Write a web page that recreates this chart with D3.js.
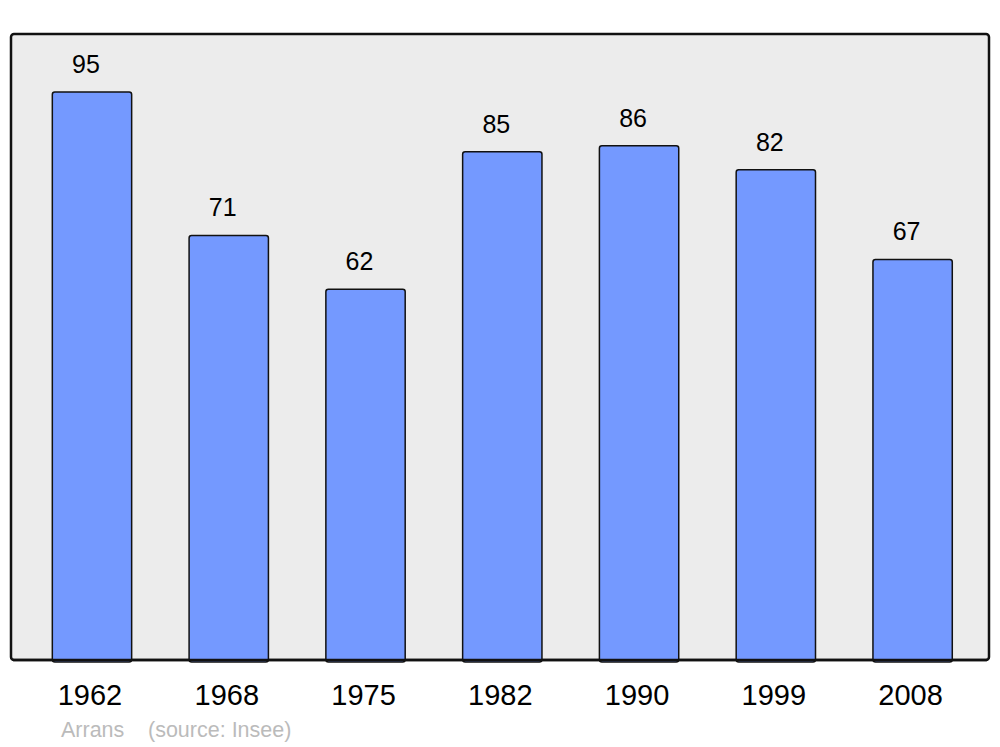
<!DOCTYPE html>
<html>
<head>
<meta charset="utf-8">
<script src="https://cdn.jsdelivr.net/npm/d3@7"></script>
<style>
    body { margin: 0; background: #fff; }
    text { font-family: "Liberation Sans", Arial, sans-serif; }
</style>
</head>
<body>
<svg id="chart" width="1000" height="747"></svg>
<script>
const years = ["1962", "1968", "1975", "1982", "1990", "1999", "2008"];
const population = [95, 71, 62, 85, 86, 82, 67];
const commune = "Arrans";
const source = "(source: Insee)";

const svg = d3.select("#chart"),
    panel = { left: 11, top: 34, right: 989, bottom: 660 };

const x = d3.scaleBand()
    .domain(years)
    .range([23.6, 981])
    .paddingInner(0.42)
    .paddingOuter(0.21);

const y = d3.scaleLinear()
    .domain([0, 95])
    .range([panel.bottom, 92]);

// background panel
svg.append("rect")
    .attr("x", panel.left)
    .attr("y", panel.top)
    .attr("width", panel.right - panel.left)
    .attr("height", panel.bottom - panel.top)
    .attr("rx", 3)
    .attr("fill", "#ececec")
    .attr("stroke", "#111")
    .attr("stroke-width", 2.5);

const data = years.map(function (d, i) { return { year: d, value: population[i] }; });

svg.append("g")
    .selectAll("rect")
    .data(data)
    .enter()
    .append("rect")
    .attr("x", function (d) { return x(d.year); })
    .attr("y", function (d) { return y(d.value); })
    .attr("width", x.bandwidth())
    .attr("height", function (d) { return y(0) - y(d.value) + 2; })
    .attr("rx", 2.5)
    .attr("fill", "#7499ff")
    .attr("stroke", "#111")
    .attr("stroke-width", 1.5);

// redraw panel bottom edge over the bars
svg.append("line")
    .attr("x1", panel.left + 2)
    .attr("x2", panel.right - 2)
    .attr("y1", panel.bottom)
    .attr("y2", panel.bottom)
    .attr("stroke", "#111")
    .attr("stroke-width", 2.5);

svg.append("g")
    .selectAll("text")
    .data(data)
    .enter()
    .append("text")
    .attr("x", function (d) { return x(d.year) + x.bandwidth() / 2 - 6; })
    .attr("y", function (d) { return y(d.value) - 19; })
    .attr("text-anchor", "middle")
    .attr("font-size", 25)
    .attr("fill", "#000")
    .text(function (d) { return d.value; });

// year labels, drawn with a bottom axis and no line or ticks
const axis = svg.append("g")
    .attr("transform", "translate(-2," + panel.bottom + ")")
    .call(d3.axisBottom(x).tickSize(0).tickPadding(24));
axis.select(".domain").remove();
axis.selectAll("text")
    .attr("font-family", "Liberation Sans, Arial, sans-serif")
    .attr("font-size", 29)
    .attr("fill", "#000");

svg.append("text")
    .attr("x", 61)
    .attr("y", 737)
    .attr("font-size", 21.5)
    .attr("fill", "#bbb")
    .text(commune);

svg.append("text")
    .attr("x", 148)
    .attr("y", 737)
    .attr("font-size", 21.5)
    .attr("fill", "#bbb")
    .text(source);
</script>
</body>
</html>
